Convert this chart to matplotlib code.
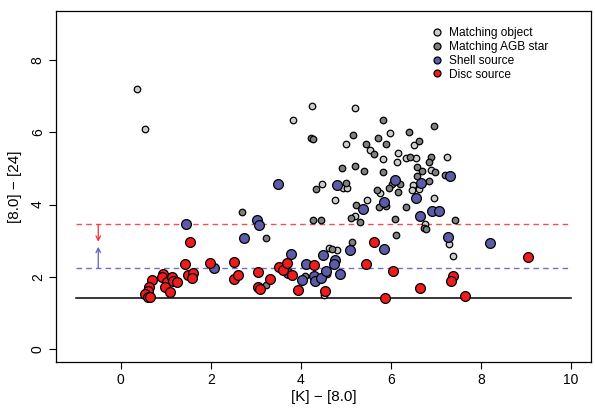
import matplotlib
matplotlib.use("Agg")
import matplotlib.pyplot as plt
from matplotlib.lines import Line2D

plt.rcParams['font.family'] = ['Liberation Sans', 'DejaVu Sans']

# ---- data: [K]-[8.0] vs [8.0]-[24] ----
match_x = [0.36, 0.53, 4.24, 5.20, 3.82, 5.98, 5.00, 5.53, 5.82, 6.16, 6.51, 6.13,
           6.33, 6.56, 7.24, 6.89, 4.47, 4.93, 5.02, 6.49, 6.47, 6.62, 4.76, 5.47,
           6.96, 5.20, 6.76, 7.29, 7.38, 4.62, 4.80, 4.51, 5.76]
match_y = [7.19, 6.08, 6.72, 6.67, 6.33, 5.97, 5.69, 5.50, 5.25, 5.44, 5.64, 5.19,
           5.28, 5.28, 5.31, 4.97, 4.56, 4.47, 4.47, 4.53, 4.39, 4.44, 4.14, 4.14,
           4.17, 3.69, 3.47, 2.92, 2.58, 2.81, 2.75, 1.50, 4.31]

agb_x = [5.82, 4.22, 4.27, 5.16, 6.40, 6.96, 6.62, 5.44, 5.71, 5.89, 5.62, 6.42,
         6.89, 6.84, 5.20, 4.91, 5.40, 5.82, 6.58, 6.69, 6.98, 6.58, 7.20, 4.33,
         5.00, 6.02, 6.20, 5.96, 6.84, 5.22, 5.69, 5.73, 5.89, 6.33, 2.69, 4.27,
         4.44, 5.11, 5.31, 6.09, 7.42, 6.73, 6.78, 6.11, 3.22, 5.13, 4.69, 4.58,
         3.22, 4.09, 6.16]
agb_y = [6.33, 5.83, 5.81, 5.92, 6.00, 6.17, 5.75, 5.67, 5.83, 5.69, 5.39, 5.33,
         5.31, 5.17, 5.06, 5.00, 4.92, 4.89, 5.03, 4.94, 4.89, 4.78, 4.83, 4.42,
         4.61, 4.56, 4.56, 4.47, 4.64, 4.00, 4.39, 3.94, 3.97, 3.94, 3.78, 3.58,
         3.58, 3.64, 3.53, 3.61, 3.56, 3.36, 3.31, 3.17, 3.08, 2.97, 2.78, 2.08,
         1.78, 2.03, 4.36]

shell_x = [3.49, 4.80, 6.09, 6.67, 7.31, 5.84, 5.38, 6.56, 6.64, 6.91, 7.07, 7.27,
           8.20, 1.44, 2.07, 3.02, 3.07, 2.73, 3.78, 3.71, 4.11, 4.02, 4.29, 4.31,
           4.44, 4.56, 4.49, 4.76, 4.73, 4.87, 5.09, 5.84]
shell_y = [4.58, 4.53, 4.67, 4.61, 4.78, 4.06, 3.89, 4.17, 3.69, 3.81, 3.81, 3.11,
           2.94, 3.47, 2.25, 3.56, 3.44, 3.06, 2.64, 2.11, 2.36, 1.92, 2.03, 1.89,
           1.97, 2.17, 2.61, 2.47, 2.36, 2.08, 2.75, 2.78]

disc_x = [1.53, 1.42, 1.98, 2.51, 2.51, 1.49, 1.60, 1.58, 0.69, 0.93, 0.91, 1.02,
          1.13, 1.16, 1.24, 0.98, 1.09, 0.62, 0.60, 0.53, 0.60, 0.64, 2.60, 3.04,
          3.31, 3.04, 3.09, 3.51, 3.60, 3.69, 3.80, 4.29, 3.93, 4.53, 5.62, 5.44,
          6.04, 6.64, 5.87, 7.38, 7.33, 7.64, 9.04]
disc_y = [2.97, 2.36, 2.39, 2.42, 1.94, 2.06, 2.11, 1.97, 1.92, 2.08, 2.00, 1.86,
          2.00, 1.89, 1.86, 1.72, 1.58, 1.72, 1.61, 1.53, 1.44, 1.44, 2.06, 2.14,
          1.94, 1.72, 1.67, 2.28, 2.19, 2.39, 2.06, 2.33, 1.64, 1.61, 2.97, 2.36,
          2.17, 1.69, 1.42, 2.03, 1.89, 1.47, 2.56]

base_level = 1.4
shell_level = 2.25
disc_level = 3.45
line_x = [-1, 10]

c_match, c_agb, c_shell, c_disc = '#CCCCCC', '#808080', '#5B5BA8', '#EE1C1C'

fig = plt.figure(figsize=(5.95, 4.09), dpi=100)
ax = fig.add_axes([0.094, 0.115, 0.899, 0.858])

# reference lines
ax.plot(line_x, [base_level] * 2, color='black', lw=1.1, zorder=1)
ax.plot(line_x, [shell_level] * 2, color='#7070C8', lw=1.0, ls=(0, (4, 3)), zorder=1)
ax.plot(line_x, [disc_level] * 2, color='#F05050', lw=1.0, ls=(0, (4, 3)), zorder=1)

# arrows between the lines
ax.annotate('', xy=(-0.5, 2.97), xytext=(-0.5, disc_level),
            arrowprops=dict(arrowstyle='->', color='#F03030', lw=0.9,
                            shrinkA=0, shrinkB=0, mutation_scale=8))
ax.annotate('', xy=(-0.5, 2.83), xytext=(-0.5, shell_level),
            arrowprops=dict(arrowstyle='->', color='#6060B8', lw=0.9,
                            shrinkA=0, shrinkB=0, mutation_scale=8))

small, big = 22, 50
ax.scatter(match_x, match_y, s=small, c=c_match, edgecolors='black',
           linewidths=0.9, zorder=3)
ax.scatter(agb_x, agb_y, s=small, c=c_agb, edgecolors='black',
           linewidths=0.9, zorder=3)
ax.scatter(shell_x, shell_y, s=big, c=c_shell, edgecolors='black',
           linewidths=0.9, zorder=4)
ax.scatter(disc_x, disc_y, s=big, c=c_disc, edgecolors='black',
           linewidths=0.9, zorder=5)

ax.set_xlim(-1.44, 10.44)
ax.set_ylim(-0.36, 9.36)
ax.set_xticks([0, 2, 4, 6, 8, 10])
ax.set_yticks([0, 2, 4, 6, 8])
ax.tick_params(direction='out', length=5, width=0.8, labelsize=10, pad=3)
for lab in ax.get_yticklabels():
    lab.set_rotation(90)
    lab.set_va('center')
ax.set_xlabel('[K] \u2212 [8.0]', fontsize=11, labelpad=2)
ax.set_ylabel('[8.0] \u2212 [24]', fontsize=11, labelpad=6)
for sp in ax.spines.values():
    sp.set_linewidth(0.9)

# legend: all markers same small size
handles = [
    Line2D([], [], ls='none', marker='o', ms=5, mfc=c, mec='black', mew=0.9, label=lab)
    for c, lab in [(c_match, 'Matching object'), (c_agb, 'Matching AGB star'),
                   (c_shell, 'Shell source'), (c_disc, 'Disc source')]
]
ax.legend(handles=handles, loc='upper left', bbox_to_anchor=(0.701, 0.954),
          frameon=False, fontsize=8.6, handlelength=1.0, handletextpad=0.5,
          labelspacing=0.15, borderpad=0, borderaxespad=0)

fig.savefig('out.png', dpi=100)
